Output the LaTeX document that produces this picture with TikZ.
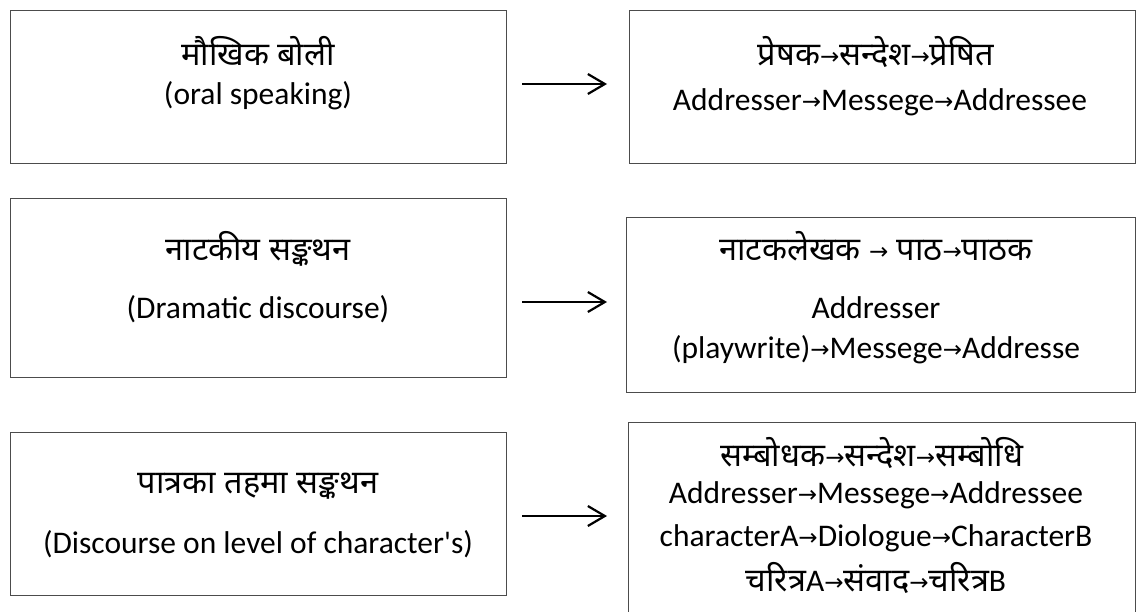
\documentclass[tikz,border=0pt]{standalone}
\usepackage{fontspec}
\setmainfont{Carlito}
\newfontfamily\apo[Ligatures=TeXOff]{Carlito}
\newfontfamily\dev[Script=Devanagari]{Noto Sans}
\newfontfamily\arfont{DejaVu Sans}
\usetikzlibrary{arrows.meta}
\newcommand\ra{{\arfont\fontsize{23}{23}\selectfont\raisebox{1pt}{→}}}
\newcommand\lt[1]{{\rmfamily\fontsize{31.5}{31.5}\selectfont #1}}
\definecolor{boxgray}{gray}{0.3}
\begin{document}
\begin{tikzpicture}[x=1pt,y=-1pt,
  box/.style={draw=boxgray, line width=1.2pt, inner sep=0pt, anchor=north west},
  lat/.style={font=\fontsize{31.5}{31.5}\selectfont, inner sep=0pt, anchor=base},
  dv/.style={font=\dev\fontsize{32.5}{32.5}\selectfont, inner sep=0pt, anchor=base},
  arr/.style={line width=2.2pt, -{Straight Barb[length=17pt,width=20pt,line width=2.2pt]}}]
\useasboundingbox (0,0) rectangle (1137,611);
\clip (0,0) rectangle (1137,611);
% left boxes
\node[box, minimum width=496pt, minimum height=153pt] (l1) at (10,10) {};
\node[box, minimum width=496pt, minimum height=179pt] (l2) at (10,198) {};
\node[box, minimum width=496pt, minimum height=163pt] (l3) at (10,432) {};
% right boxes
\node[box, minimum width=506pt, minimum height=153pt] (r1) at (629,10) {};
\node[box, minimum width=509pt, minimum height=175pt] (r2) at (626,217) {};
\node[box, minimum width=507pt, minimum height=220pt] (r3) at (628,422) {};
% arrows
\coordinate (a1s) at (522,84);  \coordinate (a1e) at (607,84);
\coordinate (a2s) at (522,302); \coordinate (a2e) at (607,302);
\coordinate (a3s) at (522,516); \coordinate (a3e) at (607,516);
\draw[arr] (a1s) -- (a1e);
\draw[arr] (a2s) -- (a2e);
\draw[arr] (a3s) -- (a3e);
% left texts
\node[dv]  (l1a) at (258,65)  {मौखिक बोली};
\node[lat] (l1b) at (258,104) {(oral speaking)};
\node[dv]  (l2a) at (258,260) {नाटकीय सङ्कथन};
\node[lat] (l2b) at (258,318) {(Dramatic discourse)};
\node[dv]  (l3a) at (258,493) {पात्रका तहमा सङ्कथन};
\node[lat] (l3b) at (258,553) {(Discourse on level of character{\apo'}s)};
% right texts
\node[dv]  (r1a) at (876,65)  {प्रेषक\ra सन्देश\ra प्रेषित};
\node[lat] (r1b) at (880,110) {Addresser\ra Messege\ra Addressee};
\node[dv]  (r2a) at (876,260) {नाटकलेखक \ra{} पाठ\ra पाठक};
\node[lat] (r2b) at (876,318) {Addresser};
\node[lat] (r2c) at (876,358) {(playwrite)\ra Messege\ra Addresse};
\node[dv]  (r3a) at (872,466) {सम्बोधक\ra सन्देश\ra सम्बोधि};
\node[lat] (r3b) at (876,503) {Addresser\ra Messege\ra Addressee};
\node[lat] (r3c) at (876,546) {characterA\ra Diologue\ra CharacterB};
\node[dv]  (r3d) at (876,591) {चरित्र\lt{A}\ra संवाद\ra चरित्र\lt{B}};
\end{tikzpicture}
\end{document}
